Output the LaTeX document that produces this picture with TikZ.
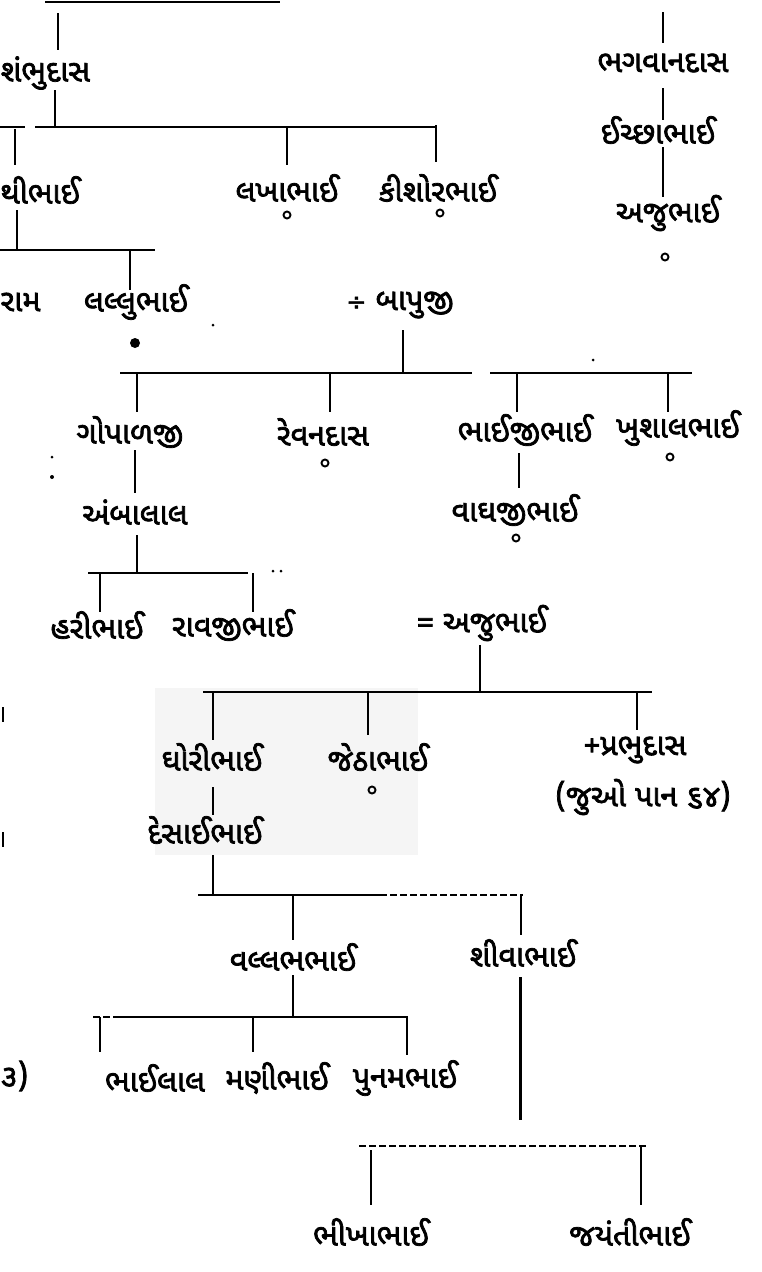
\documentclass[tikz,border=0pt]{standalone}
\usepackage{fontspec}
\newfontfamily\gujb[Script=Gujarati,FakeBold=2.4]{Noto Sans Gujarati UI}
\newfontfamily\dvs[FakeBold=1.5]{DejaVu Sans}
\begin{document}
\begin{tikzpicture}[x=1pt,y=-1pt,
  nm/.style={font=\gujb\fontsize{30.5}{32}\selectfont, inner sep=0pt, anchor=center},
  ln/.style={line width=2.6pt},
  hl/.style={line width=1.9pt},
  dl/.style={line width=1.5pt, dash pattern=on 7pt off 3pt},
  circ/.style={circle, draw, line width=1.9pt, inner sep=0pt, minimum size=7pt},
  fdot/.style={circle, fill, inner sep=0pt, minimum size=10pt},
  sdot/.style={circle, fill, inner sep=0pt, minimum size=3pt}]
\useasboundingbox (0,0) rectangle (761,1272);
\fill[white] (0,0) rectangle (761,1272);
\fill[black!4] (155,688) rectangle (418,855);

% ---------- names ----------
\node[nm, anchor=west] (shambhu) at (0.5,73) {શંભુદાસ};
\node[nm, anchor=west] (pithi) at (0.5,190) {થીભાઈ};
\node[nm] (lakha) at (287,188) {લખાભાઈ};
\node[nm] (kishor) at (438,188) {કીશોરભાઈ};
\node[nm] (bhagvan) at (663,63) {ભગવાનદાસ};
\node[nm] (ichchha) at (658,130) {ઈચ્છાભાઈ};
\node[nm] (aju1) at (668,213) {અજુભાઈ};
\node[nm, anchor=west] (ram) at (0.5,302) {રામ};
\node[nm] (lallu) at (136,302) {લલ્લુભાઈ};
\node[nm] (bapuji) at (400,305) {{\dvs\fontsize{24}{26}\selectfont ÷}\ બાપુજી};
\node[nm] (gopal) at (130,432) {ગોપાળજી};
\node[nm] (revan) at (323,432) {રેવનદાસ};
\node[nm] (bhaiji) at (525,430) {ભાઈજીભાઈ};
\node[nm] (khushal) at (678,428) {ખુશાલભાઈ};
\node[nm] (ambalal) at (135,512) {અંબાલાલ};
\node[nm] (vaghji) at (515,510) {વાઘજીભાઈ};
\node[nm] (hari) at (97,625) {હરીભાઈ};
\node[nm] (ravji) at (233,625) {રાવજીભાઈ};
\node[nm] (aju2) at (482,623) {= અજુભાઈ};
\node[nm] (ghori) at (212,757) {ઘોરીભાઈ};
\node[nm] (jetha) at (378,757) {જેઠાભાઈ};
\node[nm] (prabhu) at (635,750) {+પ્રભુદાસ};
\node[nm] (pan) at (643,797) {(જુઓ પાન ૬૪)};
\node[nm] (desai) at (205,830) {દેસાઈભાઈ};
\node[nm] (vallabh) at (293,957) {વલ્લભભાઈ};
\node[nm] (shiva) at (523,953) {શીવાભાઈ};
\node[nm, anchor=west] (three) at (0.5,1076) {૩)};
\node[nm] (bhailal) at (155,1078) {ભાઈલાલ};
\node[nm] (mani) at (277,1078) {મણીભાઈ};
\node[nm] (punam) at (405,1078) {પુનમભાઈ};
\node[nm] (bhikha) at (371,1232) {ભીખાભાઈ};
\node[nm] (jayanti) at (630,1232) {જયંતીભાઈ};

% ---------- marks ----------
\node[circ] (c1) at (287,215) {};
\node[circ] (c2) at (440,213) {};
\node[circ] (c3) at (665,257) {};
\node[circ] (c4) at (325,463) {};
\node[circ] (c5) at (670,457) {};
\node[circ] (c6) at (516,538) {};
\node[circ] (c7) at (372,790) {};
\node[fdot] (d1) at (135,343) {};
\node[sdot] (s1) at (213,325) {};
\node[sdot] (s2) at (593,360) {};
\node[sdot] (s3) at (52,457) {};
\node[sdot, minimum size=4pt] (s4) at (52,477) {};
\node[sdot] (s5) at (273,571) {};
\node[sdot] (s6) at (281,571) {};
\draw[ln] (3,707) -- (3,722);
\draw[ln] (3,832) -- (3,847);

% ---------- coordinates ----------
\coordinate (t1) at (45,2);  \coordinate (t2) at (280,2);
\coordinate (a1) at (58,13); \coordinate (a2) at (58,50);
\coordinate (a3) at (55,90); \coordinate (a4) at (55,127);
\coordinate (b0) at (0,127); \coordinate (b1) at (25,127);
\coordinate (b2) at (35,127); \coordinate (b3) at (437,127);
\coordinate (b7) at (15,129); \coordinate (b4) at (15,165);
\coordinate (b8) at (287,127); \coordinate (b5) at (287,165);
\coordinate (b9) at (436,125); \coordinate (b6) at (436,162);
\coordinate (r1) at (663,12);  \coordinate (r2) at (663,43);
\coordinate (r3) at (663,88);  \coordinate (r4) at (663,120);
\coordinate (r5) at (663,147); \coordinate (r6) at (663,197);
\coordinate (p1) at (17,210); \coordinate (p2) at (17,250);
\coordinate (p0) at (0,250); \coordinate (p3) at (155,250);
\coordinate (p4) at (130,250); \coordinate (p5) at (130,290);
\coordinate (q1) at (403,330); \coordinate (q2) at (403,373);
\coordinate (q3) at (120,373); \coordinate (q4) at (472,373);
\coordinate (q5) at (490,373); \coordinate (q6) at (692,373);
\coordinate (g1) at (137,373); \coordinate (g2) at (137,412);
\coordinate (g3) at (330,373); \coordinate (g4) at (330,412);
\coordinate (g5) at (517,373); \coordinate (g6) at (517,412);
\coordinate (g7) at (668,373); \coordinate (g8) at (668,412);
\coordinate (h1) at (135,450); \coordinate (h2) at (135,493);
\coordinate (h3) at (519,453); \coordinate (h4) at (519,488);
\coordinate (k1) at (137,535); \coordinate (k2) at (137,573);
\coordinate (k3) at (88,573);  \coordinate (k4) at (248,573);
\coordinate (k5) at (100,573); \coordinate (k6) at (100,612);
\coordinate (k7) at (253,573); \coordinate (k8) at (253,612);
\coordinate (m1) at (480,645); \coordinate (m2) at (480,692);
\coordinate (m3) at (203,692); \coordinate (m4) at (652,692);
\coordinate (m5) at (213,692); \coordinate (m6) at (213,740);
\coordinate (m7) at (368,692); \coordinate (m8) at (368,735);
\coordinate (m9) at (637,692); \coordinate (m10) at (637,730);
\coordinate (n1) at (213,787); \coordinate (n2) at (213,815);
\coordinate (n3) at (213,855); \coordinate (n4) at (213,895);
\coordinate (n5) at (198,895); \coordinate (n6) at (380,895);
\coordinate (n7) at (523,895);
\coordinate (n8) at (293,895); \coordinate (n9) at (293,940);
\coordinate (n10) at (521,895); \coordinate (n11) at (521,935);
\coordinate (v1) at (293,975); \coordinate (v2) at (293,1017);
\coordinate (v3) at (93,1017);  \coordinate (v3b) at (120,1017);
\coordinate (v4) at (408,1017);
\coordinate (v5) at (100,1017); \coordinate (v6) at (100,1052);
\coordinate (v7) at (253,1017); \coordinate (v8) at (253,1052);
\coordinate (v9) at (407,1017); \coordinate (v10) at (407,1055);
\coordinate (w1) at (520,977); \coordinate (w2) at (520,1120);
\coordinate (w3) at (359,1146); \coordinate (w4) at (646,1146);
\coordinate (w5) at (371,1150); \coordinate (w6) at (371,1205);
\coordinate (w7) at (641,1146); \coordinate (w8) at (641,1205);

% ---------- connectors ----------
\draw[hl] (t1) -- (t2);
\draw[ln] (a1) -- (a2);
\draw[ln] (a3) -- (a4);
\draw[hl] (b0) -- (b1);
\draw[hl] (b2) -- (b3);
\draw[ln] (b7) -- (b4);
\draw[ln] (b8) -- (b5);
\draw[ln] (b9) -- (b6);
\draw[ln] (r1) -- (r2);
\draw[ln] (r3) -- (r4);
\draw[ln] (r5) -- (r6);
\draw[ln] (p1) -- (p2);
\draw[hl] (p0) -- (p3);
\draw[ln] (p4) -- (p5);
\draw[ln] (q1) -- (q2);
\draw[hl] (q3) -- (q4);
\draw[hl] (q5) -- (q6);
\draw[ln] (g1) -- (g2);
\draw[ln] (g3) -- (g4);
\draw[ln] (g5) -- (g6);
\draw[ln] (g7) -- (g8);
\draw[ln] (h1) -- (h2);
\draw[ln] (h3) -- (h4);
\draw[ln] (k1) -- (k2);
\draw[hl] (k3) -- (k4);
\draw[ln] (k5) -- (k6);
\draw[ln] (k7) -- (k8);
\draw[ln] (m1) -- (m2);
\draw[hl] (m3) -- (m4);
\draw[ln] (m5) -- (m6);
\draw[ln] (m7) -- (m8);
\draw[ln] (m9) -- (m10);
\draw[ln] (n1) -- (n2);
\draw[ln] (n3) -- (n4);
\draw[hl] (n5) -- (n6);
\draw[dl] (n6) -- (n7);
\draw[ln] (n8) -- (n9);
\draw[ln] (n10) -- (n11);
\draw[ln] (v1) -- (v2);
\draw[dl] (v3) -- (v3b);
\draw[hl] (v3b) -- (v4);
\draw[ln] (v5) -- (v6);
\draw[ln] (v7) -- (v8);
\draw[ln] (v9) -- (v10);
\draw[line width=3pt] (w1) -- (w2);
\draw[dl] (w3) -- (w4);
\draw[ln] (w5) -- (w6);
\draw[ln] (w7) -- (w8);
\end{tikzpicture}
\end{document}
